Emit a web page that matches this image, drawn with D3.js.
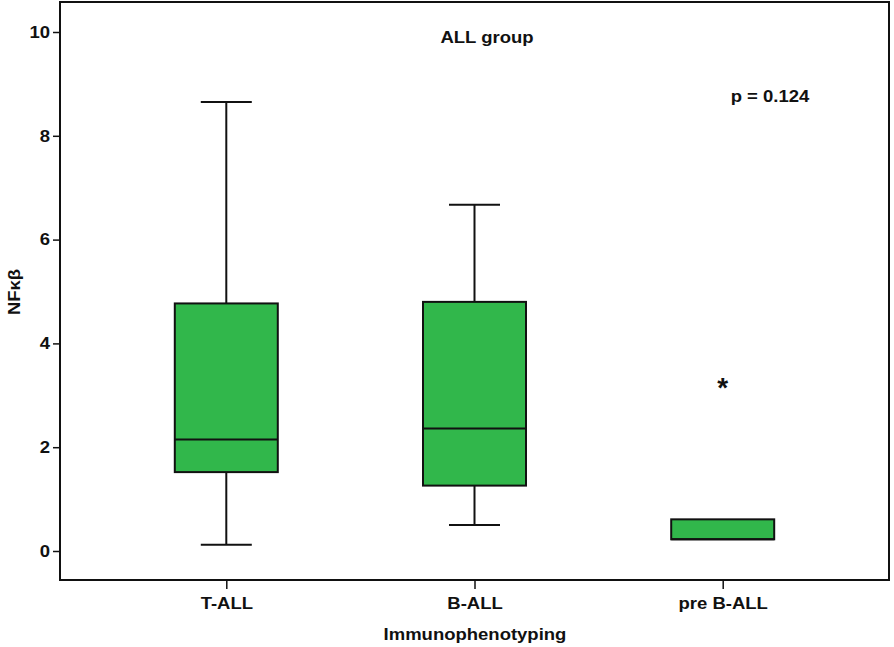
<!DOCTYPE html>
<html><head><meta charset="utf-8">
<script src="https://cdn.jsdelivr.net/npm/d3@7"></script>
<style>body{margin:0;background:#fff}text{font-family:"Liberation Sans",Arial,sans-serif;font-weight:bold;fill:#111}</style>
</head><body><svg id="c" width="894" height="647"></svg>
<script>
const categories = ["T-ALL", "B-ALL", "pre B-ALL"];
const whiskerLow  = [0.12, 0.50, 0.225];
const q1          = [1.52, 1.26, 0.225];
const median      = [2.15, 2.36, 0.225];
const q3          = [4.77, 4.80, 0.61];
const whiskerHigh = [8.65, 6.67, 0.61];
const outliers    = [{cat: "pre B-ALL", value: 3.22}];
const yTicks = [0, 2, 4, 6, 8, 10];

const svg = d3.select("#c");
const L = 60, R = 889, T = 2, B = 580;
const x = d3.scalePoint().domain(categories).range([L, R]).padding(0.67);
const y = d3.scaleLinear().domain([0, 10]).range([551, 32]);
const boxW = 103, capW = 51;
const FS = "16.5px";

svg.append("rect").attr("x", L).attr("y", T).attr("width", R - L).attr("height", B - T)
  .attr("fill", "none").attr("stroke", "#111").attr("stroke-width", 2);

const ya = svg.append("g").attr("transform", `translate(${L},0)`)
  .call(d3.axisLeft(y).tickValues(yTicks).tickSize(7).tickPadding(3));
ya.select(".domain").remove();
ya.selectAll("line").attr("stroke", "#111").attr("stroke-width", 1.5);
ya.selectAll("text").style("font-size", FS).attr("fill", "#111");

const xa = svg.append("g").attr("transform", `translate(0,${B})`)
  .call(d3.axisBottom(x).tickSize(9).tickPadding(8));
xa.select(".domain").remove();
xa.selectAll("line").attr("stroke", "#111").attr("stroke-width", 1.5);
xa.selectAll("text").style("font-size", FS).attr("fill", "#111");

const data = categories.map((c, i) => ({c, lo: whiskerLow[i], q1: q1[i], med: median[i], q3: q3[i], hi: whiskerHigh[i]}));
const g = svg.append("g");
data.forEach(d => {
  const cx = x(d.c);
  if (d.hi > d.q3) {
    g.append("line").attr("x1", cx).attr("x2", cx).attr("y1", y(d.hi)).attr("y2", y(d.q3)).attr("stroke", "#111").attr("stroke-width", 2);
    g.append("line").attr("x1", cx - capW/2).attr("x2", cx + capW/2).attr("y1", y(d.hi)).attr("y2", y(d.hi)).attr("stroke", "#111").attr("stroke-width", 2);
  }
  if (d.lo < d.q1) {
    g.append("line").attr("x1", cx).attr("x2", cx).attr("y1", y(d.q1)).attr("y2", y(d.lo)).attr("stroke", "#111").attr("stroke-width", 2);
    g.append("line").attr("x1", cx - capW/2).attr("x2", cx + capW/2).attr("y1", y(d.lo)).attr("y2", y(d.lo)).attr("stroke", "#111").attr("stroke-width", 2);
  }
  g.append("rect").attr("x", cx - boxW/2).attr("y", y(d.q3)).attr("width", boxW).attr("height", y(d.q1) - y(d.q3))
    .attr("fill", "#31b74b").attr("stroke", "#111").attr("stroke-width", 2);
  g.append("line").attr("x1", cx - boxW/2).attr("x2", cx + boxW/2).attr("y1", y(d.med)).attr("y2", y(d.med)).attr("stroke", "#111").attr("stroke-width", 2);
});
outliers.forEach(o => {
  svg.append("text").attr("class", "nost").attr("x", x(o.cat)).attr("y", y(o.value) + 13).attr("text-anchor", "middle")
    .style("font-size", "28px").text("*");
});

svg.append("text").attr("x", 487).attr("y", 43).attr("text-anchor", "middle").style("font-size", FS).text("ALL group");
svg.append("text").attr("x", 770).attr("y", 102).attr("text-anchor", "middle").style("font-size", FS).text("p = 0.124");
svg.append("text").attr("x", 475).attr("y", 640).attr("text-anchor", "middle").style("font-size", FS).text("Immunophenotyping");
svg.append("text").attr("transform", `translate(20,292) rotate(-90)`).attr("text-anchor", "middle").style("font-size", FS).text("NFκβ");

// reference type is slightly wider than Liberation Sans Bold
svg.selectAll("text").filter(function(){ return !this.classList.contains("nost"); }).each(function(){
  const w = this.getComputedTextLength();
  d3.select(this).attr("textLength", w * 1.12).attr("lengthAdjust", "spacingAndGlyphs");
});
</script></body></html>
